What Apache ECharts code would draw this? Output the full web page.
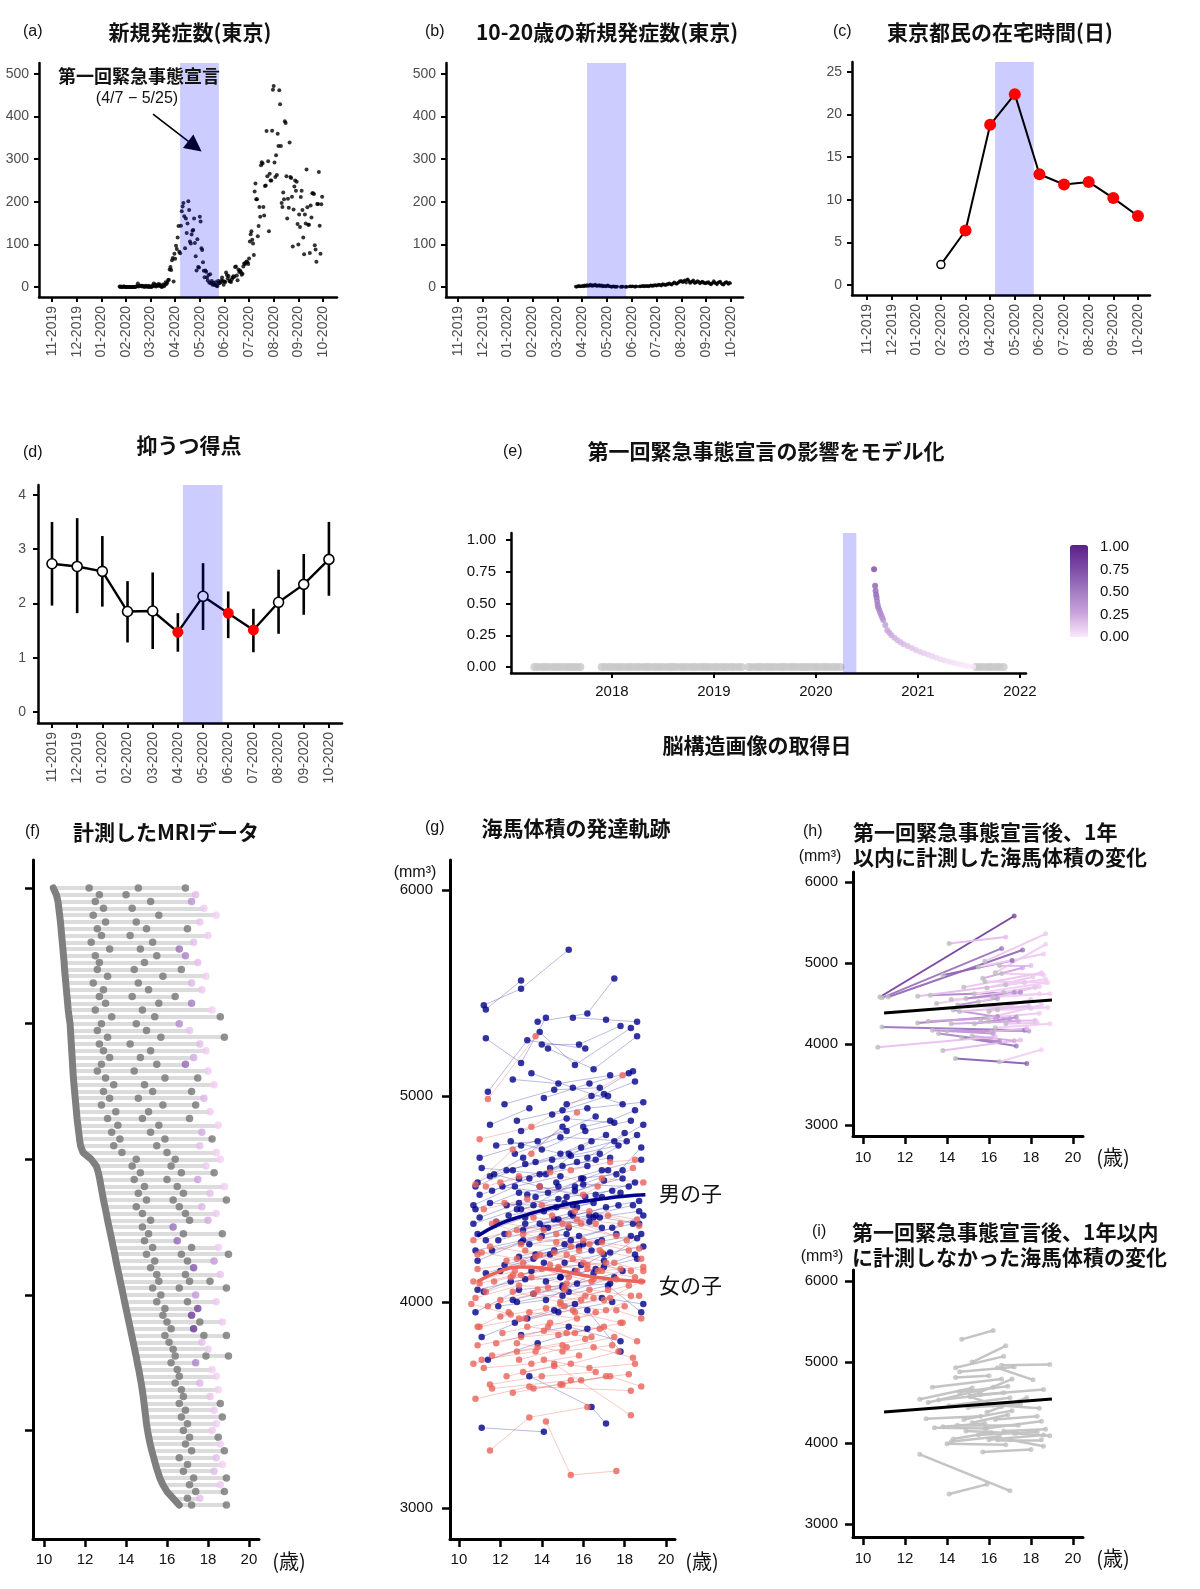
<!DOCTYPE html>
<html><head><meta charset="utf-8">
<script src="https://cdn.jsdelivr.net/npm/echarts@6/dist/echarts.min.js"></script>
<style>html,body{margin:0;padding:0;background:#fff}#chart{width:1200px;height:1589px}</style>
</head><body><div id="chart"></div>
<script>
// ---------------- DATA ----------------
const monthLabels=['11-2019','12-2019','01-2020','02-2020','03-2020','04-2020','05-2020','06-2020','07-2020','08-2020','09-2020','10-2020'];
const declaration=['2020-04-07','2020-05-25'];

// (a) daily new cases, Tokyo
const aStart='2020-01-24';
const aCases=[1,0,1,0,0,1,1,0,
0,0,0,0,0,0,0,0,0,0,0,0,1,2,8,1,3,3,3,1,3,1,0,3,1,2,0,3,0,
1,0,1,4,8,2,6,1,4,3,7,3,6,2,0,1,6,2,5,11,7,10,16,17,41,47,40,63,68,13,78,
66,97,89,116,143,83,79,144,178,189,197,166,91,161,127,149,201,181,107,102,123,132,134,161,103,72,39,112,47,46,
165,154,91,87,58,38,23,39,36,22,15,28,10,30,9,14,5,10,5,5,11,3,2,14,8,10,11,15,22,14,5,
13,12,34,28,20,26,14,13,12,18,22,25,24,47,48,27,16,41,35,39,35,29,31,48,55,54,57,60,58,54,
67,107,124,131,111,102,75,224,243,206,206,119,143,188,165,286,293,290,188,168,237,238,366,260,295,131,266,250,250,367,463,
472,292,258,309,263,360,331,462,429,331,197,188,222,206,389,385,260,161,207,186,339,258,256,212,95,182,236,250,226,247,148,
100,170,141,211,226,181,116,77,170,149,276,187,146,146,80,191,163,220,220,218,98,88,59,195,195,270,144,78,194,212];

// (b) daily new cases age 10-20, Tokyo
const bStart='2020-03-24';
const bCases=[1,0,2,1,3,2,1,2,
2,3,1,4,2,3,5,2,4,3,6,4,2,5,3,4,6,3,2,4,3,5,2,3,4,1,2,3,2,1,
3,4,2,2,1,1,0,1,2,1,0,1,0,1,null,null,null,0,1,0,1,null,null,0,1,0,null,null,1,2,1,
1,2,null,1,0,2,1,null,null,1,2,1,2,3,2,1,3,2,2,3,1,2,3,4,3,2,4,3,5,4,
3,5,4,6,5,4,3,6,7,5,6,4,5,7,6,8,9,7,6,5,8,9,11,10,8,7,9,10,12,14,13,
15,12,11,13,16,14,10,17,18,15,12,9,11,13,14,16,10,9,12,11,14,13,12,8,10,11,13,12,9,10,8,
9,11,10,12,8,7,6,9,10,14,12,9,8,6,10,11,12,13,9,7,6,5,9,10,12,11,8,7,10,9];

// (c) days at home
const cMonths=['02-2020','03-2020','04-2020','05-2020','06-2020','07-2020','08-2020','09-2020','10-2020'];
const cDays=[2.4,6.4,18.8,22.4,13.0,11.8,12.1,10.2,8.1];
const cSignificant=[false,true,true,true,true,true,true,true,true];

// (d) depression score
const dMean=[2.73,2.68,2.59,1.85,1.86,1.47,2.13,1.82,1.51,2.02,2.35,2.81];
const dLow=[1.96,1.82,1.94,1.28,1.16,1.11,1.51,1.36,1.10,1.44,1.79,2.14];
const dHigh=[3.50,3.57,3.24,2.41,2.57,1.82,2.74,2.22,1.90,2.62,2.91,3.50];
const dSignificant=[false,false,false,false,false,true,false,true,true,false,false,false];

// (e) scan dates (decimal years) and modelled effect weight
const eGreyDates=[2017.24,2017.27,2017.31,2017.34,2017.37,2017.41,2017.44,2017.47,2017.5,2017.54,2017.57,2017.6,2017.63,2017.66,2017.69,
2017.9,2017.93,2017.97,2018.0,2018.04,2018.07,2018.1,2018.14,2018.17,2018.2,2018.24,2018.27,2018.31,2018.34,2018.37,2018.41,2018.44,2018.47,2018.5,2018.54,2018.57,2018.6,2018.63,2018.67,2018.7,2018.73,2018.77,2018.8,2018.83,2018.87,2018.9,2018.93,2018.96,2019.0,2019.03,2019.07,2019.1,2019.13,2019.17,2019.2,2019.24,2019.27,
2019.34,2019.37,2019.41,2019.44,2019.47,2019.51,2019.54,2019.57,2019.6,2019.64,2019.67,2019.7,2019.74,2019.77,2019.8,2019.84,2019.87,2019.9,2019.93,2019.97,2020.0,2020.03,2020.07,2020.1,2020.13,2020.17,2020.2,2020.24,
2021.57,2021.6,2021.63,2021.67,2021.7,2021.73,2021.77,2021.8,2021.84];
const ePostDates=[2020.57,2020.58,2020.585,2020.59,2020.595,2020.6,2020.605,2020.61,2020.62,2020.63,2020.64,2020.65,2020.66,2020.68,2020.70,2020.72,2020.74,2020.77,2020.8,2020.83,2020.86,2020.9,2020.94,2020.98,2021.02,2021.06,2021.1,2021.14,2021.18,2021.22,2021.26,2021.3,2021.34,2021.38,2021.42,2021.46,2021.5,2021.54];
const ePostWeight=[0.77,0.64,0.6,0.57,0.55,0.52,0.49,0.47,0.45,0.43,0.41,0.39,0.37,0.33,0.29,0.27,0.25,0.23,0.21,0.195,0.18,0.165,0.15,0.135,0.12,0.108,0.097,0.085,0.073,0.062,0.052,0.043,0.035,0.027,0.019,0.012,0.006,0.002];
const eYearTicks=[2018,2019,2020,2021,2022];

// (f) MRI visits per participant row: [age1, age2, age3, age4, weight of last visit (null = outside window)]
const fRows=[
[10.45,12.2,14.6,16.9,null],[10.60,12.7,14.0,17.4,0.12],[10.68,12.5,15.2,17.2,0.35],[10.72,12.9,14.3,17.8,0.05],[10.76,12.4,15.6,18.4,0.02],
[10.80,13.0,14.5,17.6,0.08],[10.83,12.6,15.0,17.0,null],[10.86,12.8,14.2,18.0,0.04],[10.89,12.3,15.3,17.3,0.1],[10.92,13.2,14.7,16.6,0.55],
[10.95,12.5,15.5,16.9,0.45],[10.98,12.7,14.9,17.5,0.1],[11.00,12.6,14.4,16.7,null],[11.03,13.1,15.8,17.9,0.03],[11.06,12.4,14.6,17.2,0.15],
[11.09,12.9,15.1,17.7,0.06],[11.12,12.7,14.3,16.4,null],[11.15,13.0,15.6,17.2,0.5],[11.18,12.5,14.8,18.2,0.02],[11.22,13.3,15.4,18.6,null],
[11.27,12.8,14.5,16.6,0.4],[11.29,12.6,15.0,17.1,0.08],[11.31,13.1,15.7,18.8,null],[11.33,12.7,14.2,17.6,0.12],[11.35,12.9,15.2,17.9,0.04],
[11.37,13.2,14.7,17.3,0.2],[11.39,12.8,15.5,16.9,0.6],[11.41,12.6,14.4,18.0,0.05],[11.43,13.0,15.9,17.5,null],[11.46,13.4,14.9,18.3,0.03],
[11.49,12.9,15.3,17.2,null],[11.52,13.2,14.6,17.8,0.15],[11.55,12.8,15.8,17.4,null],[11.58,13.5,15.1,18.1,0.04],[11.61,13.1,14.8,17.1,null],
[11.65,13.6,15.6,18.5,0.02],[11.69,13.3,15.2,17.7,0.2],[11.73,13.7,15.9,18.2,null],[11.78,13.4,15.5,17.6,0.1],[11.90,13.8,16.0,18.4,0.03],
[12.30,14.5,16.4,18.6,0.02],[12.55,14.3,16.2,17.9,0.05],[12.65,14.7,16.7,18.3,null],[12.72,14.4,16.0,17.5,0.25],[12.78,14.9,16.5,18.8,0.03],
[12.84,14.6,16.8,18.1,0.1],[12.90,15.0,16.3,18.9,null],[12.97,14.5,16.6,17.7,0.15],[13.04,14.8,16.9,18.4,0.05],[13.10,15.2,17.1,18.0,0.2],
[13.17,14.8,16.3,null,0.55],[13.24,15.1,16.8,18.7,null],[13.31,14.9,16.5,null,0.6],[13.38,15.3,17.2,18.5,0.04],[13.45,15.0,16.7,19.0,null],
[13.51,15.4,17.0,18.3,0.3],[13.58,15.2,17.3,null,0.7],[13.65,15.5,16.9,18.6,0.08],[13.72,15.6,17.1,18.1,null],[13.79,15.3,16.6,18.9,null],
[13.86,15.7,17.4,null,0.3],[13.93,15.5,17.0,18.4,0.06],[14.00,15.9,17.5,null,0.8],[14.07,15.8,17.2,null,0.85],[14.14,16.0,17.6,18.7,0.05],
[14.21,16.2,17.3,null,0.9],[14.28,15.9,17.8,18.9,null],[14.35,16.1,17.7,null,0.1],[14.42,16.3,18.0,null,0.05],[14.49,16.4,17.9,19.0,null],
[14.55,16.2,17.4,null,0.45],[14.62,16.5,18.2,null,0.03],[14.68,16.6,18.4,null,0.02],[14.74,16.4,17.6,null,0.15],[14.79,16.7,18.5,null,0.03],
[14.84,16.8,18.1,null,0.08],[14.88,16.6,18.6,null,null],[14.92,16.9,18.3,null,0.05],[14.96,16.7,18.7,null,null],[15.00,17.0,18.4,null,0.04],
[15.05,16.8,18.2,null,0.06],[15.11,17.1,18.5,null,null],[15.18,16.9,18.6,null,0.03],[15.26,17.2,18.8,null,null],[15.35,16.6,18.4,null,0.1],
[15.44,17.0,18.7,null,0.02],[15.54,16.8,18.3,null,0.12],[15.65,17.3,18.9,null,null],[15.80,17.1,18.6,null,0.05],[16.00,17.4,18.8,null,null],
[16.30,17.0,17.6,null,0.1],[16.60,17.2,18.9,null,null]];
const ageTicks=[10,12,14,16,18,20];
const fRowTicks=[0,20,40,60,80];

// (g) hippocampal volume trajectories [age, vol, age, vol, ...]
const boysTraj=[
[11.2,5440,13.0,5520,15.3,5710],[11.3,5420,13.0,5560],[11.3,5280,13.0,5160,14.2,5380],[13.8,5360,16.2,5400,17.5,5570],
[13.9,5310,15.6,5150,18.3,5330],[15.5,5380,17.1,5370,18.6,5360],[14.0,5250,15.8,5250,17.8,5340],[11.4,5020,13.3,5270,16.1,5230],
[14.3,5230,16.5,5130,18.6,5290],[12.6,5080,14.8,5060,17.3,5100],[13.5,5110,15.5,5040,17.9,4960],[12.2,4960,14.6,5030,16.8,5040],
[14.5,4910,16.2,4940,18.9,4970],[13.0,4830,15.2,4890,17.5,4870],[11.8,4760,13.8,4780,16.6,4900],[10.9,4580,13.1,4700,15.0,4850],
[11.1,4650,14.2,4620,16.4,4780],[12.7,4720,14.9,4800,18.1,4780],[11.0,4520,13.4,4600,15.7,4680],[10.8,4450,12.9,4530,14.8,4560],
[11.5,4480,13.6,4470,16.0,4600],[12.1,4560,14.3,4530,17.2,4640],[10.7,4380,12.8,4450,15.1,4480],[11.3,4300,13.2,4380,15.4,4430],
[12.4,4420,14.7,4460,16.9,4510],[13.1,4350,15.5,4420,17.7,4470],[11.6,4250,14.0,4320,16.3,4390],[10.9,4200,13.0,4290,15.2,4330],
[12.0,4150,14.4,4230,16.7,4290],[13.4,4280,15.8,4320,18.4,4380],[11.2,4050,13.5,4150,15.9,4180],[12.5,4100,14.9,4120,17.0,4230],
[14.1,4190,16.4,4250,18.8,4330],[10.8,3950,12.9,4060,15.0,4080],[11.9,3980,14.2,4010,16.5,4140],[13.6,4040,15.7,4090,17.9,4150],
[11.1,3830,13.3,3920,15.6,3990],[12.7,3900,14.8,3950,17.4,4000],[14.6,3960,16.9,4020,18.9,3990],[11.4,3720,13.8,3800,16.2,3870],
[13.0,3840,15.3,3880,17.8,3810],[11.1,3390,14.1,3370],[13.4,3640,16.4,3490,17.1,3410],[15.9,4600,17.6,4620,18.8,4750],
[16.0,4850,17.3,4880,18.5,4930],[12.3,4640,14.5,4690,16.8,4720],[13.7,4510,16.0,4570,18.2,4560],[14.8,4400,17.1,4460,18.7,4490],
[15.4,4300,17.4,4360,18.9,4420],[12.9,4220,15.1,4280,17.6,4330],[14.2,4100,16.6,4160,18.5,4230],[15.0,4030,17.2,4080,18.8,3950],
[10.8,4560,12.6,4640],[11.0,4410,12.9,4480],[12.2,4330,14.6,4400,16.9,4360],[16.2,4700,18.0,4820],[15.2,4960,17.0,5010,18.5,5070],
[14.0,4740,16.1,4830,18.3,4880],[11.7,4620,13.9,4560,16.1,4510],[15.7,4460,17.8,4530],[17.0,4200,18.6,4310],[16.2,3960,17.8,3760],
[12.8,4000,15.3,4050,17.5,4120],[13.9,4380,16.3,4420,18.4,4470],[10.7,4470,12.7,4560,14.9,4610],[11.5,4610,13.7,4680,15.9,4750],
[12.9,4600,15.0,4660,17.3,4700],[14.4,4650,16.6,4690,18.6,4810],[10.9,4330,13.2,4410,15.5,4470],[12.3,4470,14.8,4500,17.0,4590],
[13.3,4520,15.6,4560,17.9,4640],[11.8,4390,14.1,4440,16.5,4480],[15.6,4540,17.9,4600],[16.8,4410,18.7,4380],
[11.0,4700,13.0,4760,15.2,4830],[11.6,4540,13.9,4620,16.2,4660],[12.5,4780,14.9,4720,17.1,4810],[13.2,4670,15.4,4710,17.7,4760],
[14.7,4580,16.9,4640,18.8,4690],[10.8,4250,13.1,4300,15.3,4360],[11.9,4300,14.1,4360,16.6,4420],[13.0,4450,15.2,4510,17.4,4540],
[14.3,4360,16.5,4410,18.7,4440],[12.2,4180,14.6,4250,16.9,4300],[13.7,4230,16.0,4280,18.3,4320],[11.3,4140,13.6,4210,15.8,4270],
[15.1,4190,17.3,4240,18.9,4270],[12.8,4880,15.0,4930,17.2,5000],[14.1,4990,16.3,5060,18.4,5120],[11.5,4860,13.4,4940],
[16.4,5000,18.2,5110],[15.3,4720,17.5,4780,18.9,4860],[10.9,4060,13.2,4110,15.6,4150],[16.6,4520,18.5,4580],
[12.6,4010,15.0,4070,17.3,4090],[14.9,4120,17.0,4170,18.6,4210]];
const girlsTraj=[
[11.4,4985,13.7,5290],[11.0,4790,13.5,4850,17.9,5100],[10.8,4570,12.6,4740],[12.0,4580,14.4,4630,16.7,4560],
[11.2,4450,13.3,4500,15.6,4440],[10.7,4300,12.8,4350,15.0,4380],[11.5,4270,13.9,4230,16.2,4180],[12.3,4200,14.6,4240,16.9,4150],
[10.9,4160,13.1,4190,15.3,4120],[11.7,4100,14.0,4160,16.4,4100],[13.0,4130,15.2,4090,17.6,4110],[10.8,4020,12.9,4080,15.1,4070],
[11.4,3980,13.6,4040,15.9,4010],[12.6,4050,14.9,4000,17.2,4060],[10.6,3990,12.5,3940],[11.0,3880,13.2,3920,15.5,3960],
[12.1,3850,14.4,3900,16.8,3870],[13.4,3950,15.7,3920,18.0,3980],[10.9,3790,13.0,3830,15.2,3850],[11.6,3740,13.8,3780,16.1,3820],
[12.8,3800,15.0,3760,17.4,3790],[11.2,3680,13.5,3700,15.8,3740],[14.1,3720,16.3,3680,18.5,3700],[11.5,3600,14.0,3640,16.6,3660],
[10.8,3530,13.4,3590,18.3,3570],[11.6,3580,15.4,3620],[11.5,3280,13.4,3440,16.2,3490],[14.2,3420,15.4,3160,17.6,3180],
[14.6,3700,18.3,3450],[12.4,4330,14.7,4290,16.9,4240],[13.6,4410,15.9,4380,18.1,4300],[14.4,4180,16.7,4150,18.9,4170],
[15.1,4060,17.3,4020,18.8,4100],[15.6,3950,17.8,3900],[13.1,3660,15.4,3700,17.7,3760],[14.8,3840,17.0,3880,18.6,3810],
[16.0,4300,18.2,4250],[16.5,3780,18.4,3730],[12.2,4480,14.5,4420,16.6,4380],[11.8,4390,14.1,4350],[13.9,4560,16.0,4520,18.4,4650],
[15.4,4640,17.3,4680,18.5,4690],[13.5,4720,15.7,4920],[16.9,4600,18.9,4580],[17.2,4420,18.7,4370],[10.7,4100,12.7,4150],
[11.1,4240,12.8,4210,15.8,4250],[12.9,3920,15.1,3980,17.0,4010],[14.3,3880,16.6,3950],[15.2,4230,17.5,4190,18.9,4150],
[17.6,3960,18.8,3920],[11.3,4560,12.9,4610],[11.1,3720,13.7,3760],[16.3,4060,18.3,4030],[10.9,3880,12.4,3950],
[12.6,3560,14.9,3600,17.1,3640],[13.8,4060,16.1,4030,18.2,4080],[12.0,4010,14.3,4070,16.5,4110],[13.2,4250,15.5,4210,17.8,4160],
[14.7,4330,16.9,4290,18.7,4260],
[11.3,4050,13.5,4120,15.7,4150],[12.5,4120,14.8,4170,17.1,4190],[13.7,4220,16.0,4190,18.3,4150],[10.9,4230,13.0,4280,15.4,4270],
[12.0,3930,14.2,3970,16.5,4020],[13.3,3880,15.6,3850,17.9,3900],[14.9,3990,17.1,3960,18.7,4030],[11.8,3800,14.1,3860,16.4,3830],
[12.9,3720,15.2,3780,17.5,3830],[15.7,4400,17.8,4380],[16.2,4160,18.5,4120],[11.6,4380,13.9,4310,16.3,4280],
[14.0,4470,16.3,4440,18.6,4400],[10.7,3700,12.8,3760,15.0,3790],[13.6,3580,15.9,3620,18.2,3650],[15.0,3600,17.3,3640,18.8,3590],
[12.3,3640,14.6,3690],[16.8,4250,18.8,4210],[11.0,4090,12.6,4130,14.8,4160],[13.1,4330,15.3,4370,17.6,4320]];
const fitAgeG=[10.9,12,13,14,15,16,17,18,19];
const boysFit=[4320,4380,4415,4445,4470,4488,4502,4513,4520];
const girlsFit=[4100,4150,4170,4165,4150,4130,4115,4105,4100];

// (h) trajectories measured within 1 year after declaration [age1, vol1, age2, vol2, weight]
const hTraj=[
[10.8,4580,17.2,5580,0.75],[10.9,4570,16.6,5180,0.5],[11.2,4580,17.6,5160,0.55],[13.8,4850,17.1,5030,0.6],
[14.1,5240,16.8,5320,0.1],[15.8,5020,18.7,5360,0.05],[16.3,4880,18.7,5230,0.03],[15.5,4950,18.6,5110,0.04],
[13.2,4600,17.2,4640,0.4],[10.9,4210,17.7,4170,0.5],[12.6,4260,16.4,4340,0.45],[14.0,4160,17.9,4160,0.3],
[13.6,4130,16.5,4030,0.4],[14.7,4080,17.3,3975,0.5],[14.4,3820,17.8,3760,0.6],[16.5,3780,18.5,3930,0.02],
[10.7,3960,16.3,4090,0.08],[13.8,3920,17.5,4050,0.1],[12.6,4590,17.7,4760,0.1],[13.5,4500,18.2,4700,0.05],
[14.2,4550,18.4,4620,0.04],[15.0,4470,18.0,4440,0.08],[15.6,4300,18.5,4480,0.05],[16.0,4280,18.2,4290,0.12],
[15.3,4250,17.3,4330,0.35],[16.4,4420,18.8,4450,0.03],[15.9,4690,18.1,4830,0.06],[16.6,4870,18.6,4850,0.04],
[15.7,4810,17.6,4940,0.2],[14.3,4420,17.0,4310,0.3],[13.1,4280,16.3,4320,0.25],[16.1,4150,17.8,4190,0.15],
[14.9,4560,17.5,4640,0.4],[16.8,4250,18.3,4260,0.06],[15.2,4100,17.2,4040,0.2],[16.2,4580,18.9,4620,0.02],
[13.3,4170,16.2,4130,0.3],[16.0,4400,18.0,4550,0.08],[14.5,4480,16.4,4560,0.3],[15.8,4770,18.7,4760,0.03],
[16.7,4640,18.4,4710,0.05],[16.5,4970,18.0,4970,0.1],
[14.8,4700,18.5,4880,0.06],[15.3,4620,18.8,4760,0.02],[14.6,4400,17.9,4470,0.1],[15.9,4320,18.4,4380,0.05],
[16.3,4200,18.9,4250,0.03],[14.2,4250,17.4,4280,0.2],[15.5,4520,18.2,4700,0.07],[16.8,4730,18.7,4800,0.03]];
// (i) trajectories not measured within 1 year [age1, vol1, age2, vol2]
const iTraj=[
[14.7,5280,16.2,5390],[15.2,5000,16.8,5200],[14.4,4930,16.7,5070],[16.6,4960,18.9,4970],[14.6,4880,17.2,4940],
[16.4,4930,18.1,4780],[14.4,4810,16.0,4830],[13.3,4690,16.6,4790],[15.1,4580,17.1,4790],[12.7,4540,15.2,4680],
[13.1,4500,16.2,4690],[14.6,4630,16.9,4700],[15.6,4600,18.6,4660],[13.6,4530,16.7,4620],[14.1,4460,17.0,4560],
[15.1,4570,16.6,4450],[16.2,4470,18.4,4430],[13.0,4300,15.6,4330],[14.8,4290,17.1,4400],[15.2,4250,16.9,4350],
[13.4,4190,15.9,4180],[14.5,4220,17.4,4220],[13.8,4200,15.8,4240],[15.8,4180,18.5,4270],[14.9,4150,17.3,4120],
[15.5,4100,18.3,4140],[14.3,4050,16.1,4130],[16.0,4040,18.6,4100],[14.0,3990,16.8,3980],[15.7,3890,18.0,3920],
[16.4,4040,18.5,4040],[17.2,4120,18.9,4090],[17.0,4040,18.6,3960],[12.7,3860,17.0,3410],[14.1,3370,15.9,3490],
[14.2,4020,16.5,4080],[16.3,4290,18.3,4330],[15.9,4380,17.8,4560],[16.7,4150,18.7,4170],[15.0,4440,17.5,4480]];
const fitAgeHI=[11,19];
const hFitVol=[4383,4543];
const iFitVol=[4383,4543];
const volTicks=[3000,4000,5000,6000];

// ---------------- HELPERS ----------------
const NUM="'Liberation Sans', Arial, 'Noto Sans CJK JP', sans-serif";
const JP="'Noto Sans CJK JP', 'Liberation Sans', sans-serif";
function ymd(s){return s.split('-').map(Number);}
function daysIn(y,m){return new Date(Date.UTC(y,m,0)).getUTCDate();}
function monthPos(y,m,d){return (y-2019)*12+(m-11)+(d-1)/daysIn(y,m);}
function monthPosStr(s){const [y,m,d]=ymd(s);return monthPos(y,m,d);}
function daily(start,vals){const [y,m,d]=ymd(start);const t0=Date.UTC(y,m-1,d);const out=[];
  vals.forEach((v,i)=>{if(v==null)return;const dt=new Date(t0+i*86400000);out.push([monthPos(dt.getUTCFullYear(),dt.getUTCMonth()+1,dt.getUTCDate()),v]);});return out;}
function decYear(s){const [y,m,d]=ymd(s);const doy=(Date.UTC(y,m-1,d)-Date.UTC(y,0,1))/86400000;const len=(Date.UTC(y+1,0,1)-Date.UTC(y,0,1))/86400000;return y+doy/len;}
const stops=[[0,[247,212,247]],[0.25,[205,160,222]],[0.5,[162,123,194]],[0.75,[124,74,165]],[1,[90,31,136]]];
function colorFor(w){if(w==null)return '#777';w=Math.max(0,Math.min(1,w));
  for(let k=1;k<stops.length;k++){if(w<=stops[k][0]){const a=stops[k-1],b=stops[k];const t=(w-a[0])/(b[0]-a[0]);
    const c=a[1].map((v,j)=>Math.round(v+(b[1][j]-v)*t));return `rgb(${c[0]},${c[1]},${c[2]})`;}}return 'rgb(90,31,136)';}
const monthTicks=monthLabels.map((_,i)=>i);
const mf=v=>monthLabels[Math.round(v)]||'';

const grid=[],xAxis=[],yAxis=[],series=[],graphic=[];
function panel(p){
  const i=grid.length;
  grid.push({left:p.l,top:p.t,width:p.w,height:p.h});
  const ls={color:'#000',width:p.lw};
  xAxis.push({type:'value',gridIndex:i,min:p.x[0],max:p.x[1],
    axisLine:{show:true,onZero:false,lineStyle:ls},
    axisTick:{show:true,length:p.tl,lineStyle:{color:'#000',width:p.tw},customValues:p.xt},
    axisLabel:{show:true,customValues:p.xt,formatter:p.xf,rotate:p.xr||0,color:p.lc,fontSize:p.fs,fontFamily:NUM,margin:p.xm},
    splitLine:{show:false}});
  yAxis.push({type:'value',gridIndex:i,min:p.y[0],max:p.y[1],inverse:!!p.yinv,
    axisLine:{show:true,onZero:false,lineStyle:ls},
    axisTick:{show:true,length:p.tl,lineStyle:{color:'#000',width:p.tw},customValues:p.yt},
    axisLabel:{show:p.yl!==false,customValues:p.yt,formatter:p.yf,color:p.lc,fontSize:p.fs,fontFamily:NUM,margin:p.ym},
    splitLine:{show:false}});
  return i;
}
function band(i,x0,x1,z){
  series.push({type:'custom',xAxisIndex:i,yAxisIndex:i,z:z,silent:true,data:[[x0,x1]],encode:{x:[0,1]},
    renderItem:(params,api)=>{const cs=params.coordSys;const a=api.coord([api.value(0),0]);const b=api.coord([api.value(1),0]);
      return {type:'rect',shape:{x:a[0],y:cs.y,width:b[0]-a[0],height:cs.height},style:{fill:'rgba(0,0,255,0.2)'}};}});
}
function txt(x,y,s,size,o){o=o||{};graphic.push({type:'text',x:x,y:y,silent:true,z:100,
  style:{text:s,fontSize:size,fontFamily:o.family||JP,fontWeight:o.bold?'bold':'normal',fill:o.color||'#111',align:o.align||'center',verticalAlign:'middle'}});}
const declM=declaration.map(monthPosStr);
const declY=declaration.map(decYear);
const arrowFrom=[4.1,406], arrowTo=[5.8,330];

// ---------------- (a) ----------------
const pa=panel({l:39,t:63,w:298,h:234,x:[-0.53,11.57],y:[-23.5,525.8],xt:monthTicks,yt:[0,100,200,300,400,500],xf:mf,xr:90,lc:'#4d4d4d',fs:14,xm:9,ym:10,lw:2.5,tw:2,tl:5});
series.push({type:'scatter',xAxisIndex:pa,yAxisIndex:pa,data:daily(aStart,aCases),symbolSize:4,itemStyle:{color:'#000'},silent:true,z:2,
  markLine:{silent:true,animation:false,symbol:['none','triangle'],symbolSize:17,lineStyle:{color:'#000',width:1.6,type:'solid'},label:{show:false},
    data:[[{coord:arrowFrom},{coord:arrowTo}]]}});
band(pa,declM[0],declM[1],10);

// ---------------- (b) ----------------
const pb=panel({l:446,t:63,w:297,h:234,x:[-0.48,11.48],y:[-23.5,525.8],xt:monthTicks,yt:[0,100,200,300,400,500],xf:mf,xr:90,lc:'#4d4d4d',fs:14,xm:9,ym:10,lw:2.5,tw:2,tl:5});
series.push({type:'scatter',xAxisIndex:pb,yAxisIndex:pb,data:daily(bStart,bCases),symbolSize:3.4,itemStyle:{color:'#000'},silent:true,z:2});
band(pb,declM[0],declM[1],10);

// ---------------- (c) ----------------
const pc=panel({l:852,t:62,w:298,h:233,x:[-0.61,11.49],y:[-1.17,26.17],xt:monthTicks,yt:[0,5,10,15,20,25],xf:mf,xr:90,lc:'#4d4d4d',fs:14,xm:9,ym:10,lw:2.5,tw:2,tl:5});
band(pc,declM[0],declM[1],1);
series.push({type:'line',xAxisIndex:pc,yAxisIndex:pc,z:3,silent:true,showAllSymbol:true,lineStyle:{color:'#000',width:2},
  data:cMonths.map((m,i)=>({value:[monthLabels.indexOf(m),cDays[i]],symbol:'circle',symbolSize:cSignificant[i]?12:8,
    itemStyle:cSignificant[i]?{color:'#ff0000',borderWidth:0}:{color:'#fff',borderColor:'#000',borderWidth:1.5}}))});

// ---------------- (d) ----------------
const pd=panel({l:38,t:485,w:304,h:238,x:[-0.556,11.52],y:[-0.203,4.18],xt:monthTicks,yt:[0,1,2,3,4],xf:mf,xr:90,lc:'#4d4d4d',fs:14,xm:9,ym:12,lw:2.5,tw:2,tl:5});
series.push({type:'custom',xAxisIndex:pd,yAxisIndex:pd,z:2,silent:true,encode:{x:0,y:[1,2]},
  data:dMean.map((m,i)=>[i,dLow[i],dHigh[i]]),
  renderItem:(params,api)=>{const a=api.coord([api.value(0),api.value(1)]);const b=api.coord([api.value(0),api.value(2)]);
    return {type:'line',shape:{x1:a[0],y1:a[1],x2:b[0],y2:b[1]},style:{stroke:'#000',lineWidth:2.6}};}});
series.push({type:'line',xAxisIndex:pd,yAxisIndex:pd,z:3,silent:true,showAllSymbol:true,lineStyle:{color:'#000',width:2.4},
  data:dMean.map((m,i)=>({value:[i,m],symbol:'circle',symbolSize:dSignificant[i]?11:10,
    itemStyle:dSignificant[i]?{color:'#ff0000',borderWidth:0}:{color:'#fff',borderColor:'#000',borderWidth:1.6}}))});
band(pd,declM[0],declM[1],10);

// ---------------- (e) ----------------
const pe=panel({l:511,t:533,w:515,h:140,x:[2017.01,2022.06],y:[-0.047,1.055],xt:eYearTicks,yt:[0,0.25,0.5,0.75,1],xf:v=>String(v),yf:v=>v.toFixed(2),lc:'#111',fs:15,xm:11,ym:15,lw:2.5,tw:2,tl:5});
series.push({type:'scatter',xAxisIndex:pe,yAxisIndex:pe,data:eGreyDates.map(d=>[d,0]),symbolSize:8,itemStyle:{color:'#c8c8c8'},silent:true});
const eIdx=series.length;
series.push({type:'scatter',xAxisIndex:pe,yAxisIndex:pe,data:ePostDates.map((d,i)=>[d,ePostWeight[i]]),symbolSize:6,silent:true});
band(pe,declY[0],declY[1],10);

// ---------------- (f) ----------------
const pf=panel({l:33,t:860,w:226,h:679,x:[9.46,20.49],y:[-4.13,96],yinv:true,xt:ageTicks,yt:fRowTicks,yl:false,xf:v=>String(v),lc:'#111',fs:15,xm:13,ym:10,lw:3,tw:2.5,tl:8});
function lastAge(r){return r[3]!=null?r[3]:r[2];}
series.push({type:'lines',coordinateSystem:'cartesian2d',xAxisIndex:pf,yAxisIndex:pf,silent:true,z:1,
  data:fRows.map((r,i)=>({coords:[[r[0],i],[lastAge(r),i]]})),lineStyle:{color:'#dcdcdc',width:4,opacity:1}});
series.push({type:'line',xAxisIndex:pf,yAxisIndex:pf,silent:true,z:2,symbol:'none',data:fRows.map((r,i)=>[r[0],i]),lineStyle:{color:'#7f7f7f',width:7,cap:'round'}});
const fGrey=[],fPurple=[];
fRows.forEach((r,i)=>{const last=lastAge(r);[r[1],r[2],r[3]].forEach(a=>{if(a==null)return;
  if(a===last&&r[4]!=null)fPurple.push([a,i,r[4]]);else fGrey.push([a,i]);});});
series.push({type:'scatter',xAxisIndex:pf,yAxisIndex:pf,silent:true,z:3,data:fGrey,symbolSize:7.5,itemStyle:{color:'#767676'}});
series.push({type:'scatter',xAxisIndex:pf,yAxisIndex:pf,silent:true,z:4,data:fPurple,symbolSize:7.5,itemStyle:{color:p=>colorFor(p.data[2])}});

// ---------------- (g) ----------------
const pg=panel({l:450,t:860,w:225,h:679,x:[9.57,20.43],y:[2850,6145],xt:ageTicks,yt:volTicks,xf:v=>String(v),yf:v=>String(v),lc:'#111',fs:15,xm:13,ym:17,lw:3,tw:2.5,tl:8});
function toCoords(t){const c=[];for(let k=0;k+1<t.length;k+=2)c.push([t[k],t[k+1]]);return c;}
series.push({type:'lines',coordinateSystem:'cartesian2d',polyline:true,xAxisIndex:pg,yAxisIndex:pg,silent:true,z:1,
  data:boysTraj.map(t=>({coords:toCoords(t)})),lineStyle:{color:'#3a3aa8',width:1,opacity:0.35}});
series.push({type:'lines',coordinateSystem:'cartesian2d',polyline:true,xAxisIndex:pg,yAxisIndex:pg,silent:true,z:1,
  data:girlsTraj.map(t=>({coords:toCoords(t)})),lineStyle:{color:'#e8635a',width:1,opacity:0.35}});
series.push({type:'scatter',xAxisIndex:pg,yAxisIndex:pg,silent:true,z:3,data:[].concat(...boysTraj.map(toCoords)),symbolSize:6.5,itemStyle:{color:'#00008b'}});
series.push({type:'scatter',xAxisIndex:pg,yAxisIndex:pg,silent:true,z:4,data:[].concat(...girlsTraj.map(toCoords)),symbolSize:6.5,itemStyle:{color:'#e8635a'}});
series.push({type:'line',xAxisIndex:pg,yAxisIndex:pg,silent:true,z:6,symbol:'none',smooth:true,data:fitAgeG.map((a,i)=>[a,boysFit[i]]),lineStyle:{color:'#00008b',width:3.5}});
series.push({type:'line',xAxisIndex:pg,yAxisIndex:pg,silent:true,z:6,symbol:'none',smooth:true,data:fitAgeG.map((a,i)=>[a,girlsFit[i]]),lineStyle:{color:'#e8635a',width:3.5}});

// ---------------- (h) ----------------
const ph=panel({l:853,t:872,w:230,h:264,x:[9.52,20.48],y:[2864,6123],xt:ageTicks,yt:volTicks,xf:v=>String(v),yf:v=>String(v),lc:'#111',fs:15,xm:14,ym:15,lw:3,tw:2.5,tl:8});
series.push({type:'lines',coordinateSystem:'cartesian2d',xAxisIndex:ph,yAxisIndex:ph,silent:true,z:2,
  data:hTraj.map(t=>({coords:[[t[0],t[1]],[t[2],t[3]]],lineStyle:{color:colorFor(t[4])}})),lineStyle:{width:2,opacity:1}});
series.push({type:'scatter',xAxisIndex:ph,yAxisIndex:ph,silent:true,z:3,data:hTraj.map(t=>[t[0],t[1]]),symbolSize:5,itemStyle:{color:'#bdbdbd'}});
series.push({type:'scatter',xAxisIndex:ph,yAxisIndex:ph,silent:true,z:3,data:hTraj.map(t=>[t[2],t[3],t[4]]),symbolSize:5,itemStyle:{color:p=>colorFor(p.data[2])}});
series.push({type:'line',xAxisIndex:ph,yAxisIndex:ph,silent:true,z:6,symbol:'none',data:fitAgeHI.map((a,i)=>[a,hFitVol[i]]),lineStyle:{color:'#000',width:3}});

// ---------------- (i) ----------------
const pi=panel({l:853,t:1270,w:230,h:267,x:[9.52,20.48],y:[2840,6136],xt:ageTicks,yt:volTicks,xf:v=>String(v),yf:v=>String(v),lc:'#111',fs:15,xm:14,ym:15,lw:3,tw:2.5,tl:8});
series.push({type:'lines',coordinateSystem:'cartesian2d',xAxisIndex:pi,yAxisIndex:pi,silent:true,z:2,
  data:iTraj.map(t=>({coords:[[t[0],t[1]],[t[2],t[3]]]})),lineStyle:{color:'#c4c4c4',width:2.5,opacity:1}});
series.push({type:'scatter',xAxisIndex:pi,yAxisIndex:pi,silent:true,z:3,data:[].concat(...iTraj.map(toCoords)),symbolSize:5,itemStyle:{color:'#c0c0c0'}});
series.push({type:'line',xAxisIndex:pi,yAxisIndex:pi,silent:true,z:6,symbol:'none',data:fitAgeHI.map((a,i)=>[a,iFitVol[i]]),lineStyle:{color:'#000',width:3}});

// ---------------- TEXT ----------------
txt(23,32,'(a)',16,{align:'left',family:NUM});
txt(190,32,'新規発症数(東京)',21,{bold:true});
txt(139,76,'第一回緊急事態宣言',18,{bold:true});
txt(137,99,'(4/7 − 5/25)',16,{family:NUM});
txt(425,32,'(b)',16,{align:'left',family:NUM});
txt(607,32,'10-20歳の新規発症数(東京)',21,{bold:true});
txt(833,32,'(c)',16,{align:'left',family:NUM});
txt(1000,32,'東京都民の在宅時間(日)',21,{bold:true});
txt(23,453,'(d)',16,{align:'left',family:NUM});
txt(189,445,'抑うつ得点',21,{bold:true});
txt(503,452,'(e)',16,{align:'left',family:NUM});
txt(766,451,'第一回緊急事態宣言の影響をモデル化',21,{bold:true});
txt(757,745,'脳構造画像の取得日',21,{bold:true});
['1.00','0.75','0.50','0.25','0.00'].forEach((s,k)=>txt(1100,547+k*22.5,s,15,{align:'left',family:NUM}));
txt(25,832,'(f)',16,{align:'left',family:NUM});
txt(166,832,'計測したMRIデータ',21,{bold:true});
txt(425,828,'(g)',16,{align:'left',family:NUM});
txt(576,828,'海馬体積の発達軌跡',21,{bold:true});
txt(415,873,'(mm³)',16,{family:NUM});
txt(659,1193,'男の子',21,{align:'left'});
txt(659,1285,'女の子',21,{align:'left'});
txt(803,832,'(h)',16,{align:'left',family:NUM});
txt(853,832,'第一回緊急事態宣言後、1年',21,{bold:true,align:'left'});
txt(853,857,'以内に計測した海馬体積の変化',21,{bold:true,align:'left'});
txt(820,857,'(mm³)',16,{family:NUM});
txt(812,1232,'(i)',16,{align:'left',family:NUM});
txt(852,1232,'第一回緊急事態宣言後、1年以内',21,{bold:true,align:'left'});
txt(852,1257,'に計測しなかった海馬体積の変化',21,{bold:true,align:'left'});
txt(822,1257,'(mm³)',16,{family:NUM});
txt(289,1561,'(歳)',20);
txt(702,1561,'(歳)',20);
txt(1113,1157,'(歳)',20);
txt(1113,1558,'(歳)',20);

const chart=echarts.init(document.getElementById('chart'),null,{renderer:'canvas'});
chart.setOption({
  animation:false,backgroundColor:'#fff',
  grid,xAxis,yAxis,series,graphic,
  visualMap:[{type:'continuous',min:0,max:1,seriesIndex:[eIdx],dimension:1,calculable:false,
    inRange:{color:['#fbe8fb','#cba6dc','#a27bc2','#7c4aa5','#5a1f88']},
    left:1070,top:545,itemWidth:18,itemHeight:92,padding:0,text:null,showLabel:false,hoverLink:false,orient:'vertical'}]
});
</script></body></html>
